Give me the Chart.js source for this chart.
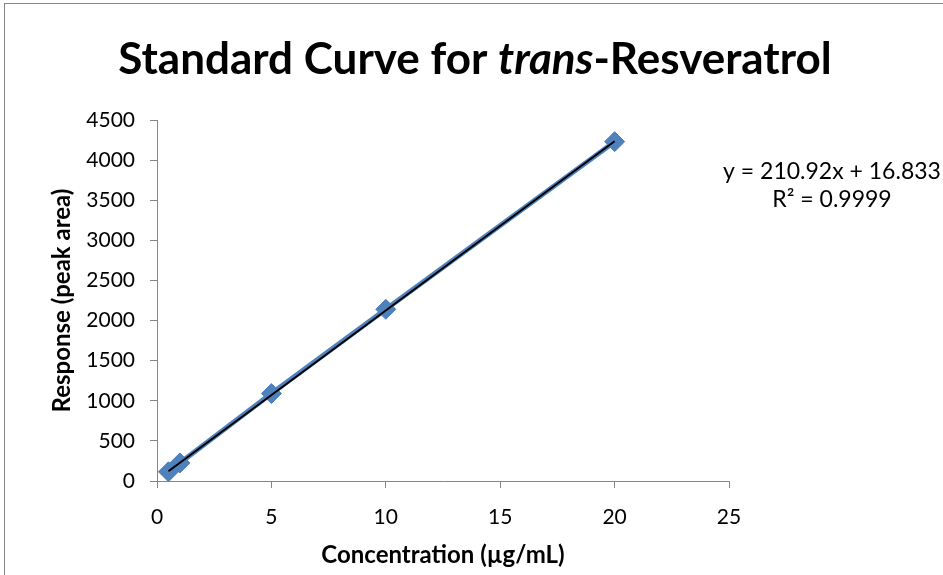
<!DOCTYPE html>
<html>
<head>
<meta charset="utf-8">
<script src="https://cdn.jsdelivr.net/npm/chart.js@4.4.0/dist/chart.umd.min.js"></script>
<style>
  html, body { margin: 0; padding: 0; background: #fff; }
  #wrap { width: 943px; height: 575px; position: relative; }
</style>
</head>
<body>
<div id="wrap"><canvas id="c" width="943" height="575"></canvas></div>
<script>
// Standard solutions: concentration (µg/mL) and measured peak area
const concentrations = [0.5, 1, 5, 10, 20];
const peakAreas = [115, 225, 1090, 2140, 4230];

// Linear least-squares fit shown on the chart
const slope = 210.92;
const intercept = 16.833;
const rSquared = 0.9999;

const xTicks = [0, 5, 10, 15, 20, 25];
const yTicks = [0, 500, 1000, 1500, 2000, 2500, 3000, 3500, 4000, 4500];

const FONT = 'Lato, "Open Sans", sans-serif';
const AXIS_GREY = '#868686';

const seriesPoints = concentrations.map((x, i) => ({ x, y: peakAreas[i] }));
const xMin = Math.min(...concentrations), xMax = Math.max(...concentrations);
const trendPoints = [xMin, xMax].map(x => ({ x, y: slope * x + intercept }));

// Frame, mixed-style title, axis titles and the fit equation
const decorations = {
  id: 'decorations',
  afterDraw(chart) {
    const ctx = chart.ctx;
    const area = chart.chartArea;
    ctx.save();
    ctx.strokeStyle = AXIS_GREY;
    ctx.lineWidth = 1;
    ctx.strokeRect(4.5, 3.5, 2000, 2000);

    // Title: "Standard Curve for " + italic "trans" + "-Resveratrol"
    const parts = [
      { t: 'Standard Curve for ', style: 'bold' },
      { t: 'trans', style: 'italic bold' },
      { t: '-Resveratrol', style: 'bold' }
    ];
    const size = 44;
    let total = 0;
    parts.forEach(p => {
      ctx.font = p.style + ' ' + size + 'px ' + FONT;
      p.w = ctx.measureText(p.t).width;
      total += p.w;
    });
    let x = 475 - total / 2;
    ctx.fillStyle = '#000';
    ctx.textBaseline = 'alphabetic';
    ctx.textAlign = 'left';
    parts.forEach(p => {
      ctx.font = p.style + ' ' + size + 'px ' + FONT;
      ctx.fillText(p.t, x, 74);
      x += p.w;
    });

    // Axis titles
    ctx.font = 'bold 24px ' + FONT;
    ctx.textAlign = 'center';
    ctx.textBaseline = 'middle';
    ctx.fillText('Concentration (µg/mL)', (area.left + area.right) / 2, 555);
    ctx.save();
    ctx.translate(62, (area.top + area.bottom) / 2);
    ctx.rotate(-Math.PI / 2);
    ctx.fillText('Response (peak area)', 0, 0);
    ctx.restore();

    // Fit equation
    ctx.font = '23px ' + FONT;
    ctx.fillText('y = ' + slope.toFixed(2) + 'x + ' + intercept.toFixed(3), 832, 172);
    ctx.fillText('R² = ' + rSquared.toFixed(4), 832, 200);
    ctx.restore();
  }
};

new Chart(document.getElementById('c'), {
  type: 'scatter',
  data: {
    datasets: [
      {
        label: 'Linear fit',
        data: trendPoints,
        showLine: true,
        borderColor: '#000000',
        borderWidth: 2,
        pointRadius: 0,
        fill: false
      },
      {
        label: 'Standards',
        data: seriesPoints,
        showLine: true,
        borderColor: '#4F81BD',
        borderWidth: 5,
        backgroundColor: '#4F81BD',
        pointStyle: 'rectRot',
        pointRadius: 10,
        pointBorderColor: '#4A7EBB',
        pointBorderWidth: 1,
        fill: false
      }
    ]
  },
  options: {
    responsive: false,
    animation: false,
    events: [],
    layout: { padding: { left: 0, right: 214, top: 120, bottom: 0 } },
    plugins: { legend: { display: false }, title: { display: false }, tooltip: { enabled: false } },
    scales: {
      x: {
        type: 'linear',
        min: 0, max: 25,
        afterFit(s) { s.height = 94; },
        afterBuildTicks(s) { s.ticks = xTicks.map(v => ({ value: v })); },
        grid: { drawOnChartArea: false, drawTicks: true, tickLength: 7, color: AXIS_GREY },
        border: { color: AXIS_GREY, width: 1 },
        ticks: { color: '#000', font: { family: FONT, size: 21 }, padding: 17, maxRotation: 0,
                 callback: v => String(v) }
      },
      y: {
        type: 'linear',
        min: 0, max: 4500,
        afterFit(s) { s.width = 157; },
        afterBuildTicks(s) { s.ticks = yTicks.map(v => ({ value: v })); },
        grid: { drawOnChartArea: false, drawTicks: true, tickLength: 7, color: AXIS_GREY },
        border: { color: AXIS_GREY, width: 1 },
        ticks: { color: '#000', font: { family: FONT, size: 21 }, padding: 15,
                 callback: v => String(v) }
      }
    }
  },
  plugins: [decorations]
});
</script>
</body>
</html>
